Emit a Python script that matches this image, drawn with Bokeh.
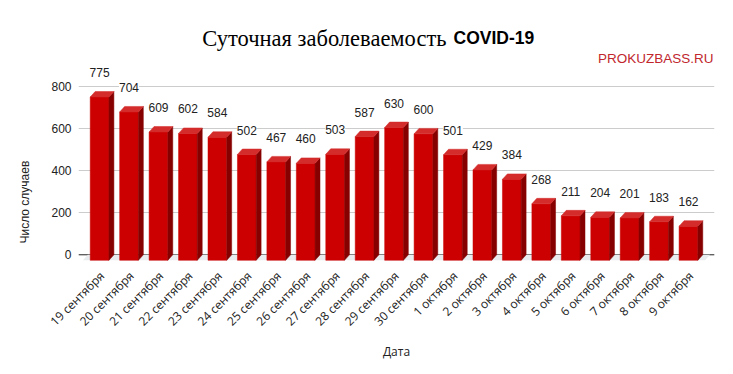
import math
from bokeh.plotting import figure
from bokeh.models import (ColumnDataSource, FactorRange, Range1d, FixedTicker,
                          LabelSet, Label, Span, Title)
from bokeh.core.properties import value
from bokeh.embed import file_html
from bokeh.resources import INLINE

# ---------------- data ----------------
dates = ["19 сентября", "20 сентября", "21 сентября", "22 сентября", "23 сентября",
         "24 сентября", "25 сентября", "26 сентября", "27 сентября", "28 сентября",
         "29 сентября", "30 сентября", "1 октября", "2 октября", "3 октября",
         "4 октября", "5 октября", "6 октября", "7 октября", "8 октября", "9 октября"]
cases = [775, 704, 609, 602, 584, 502, 467, 460, 503, 587, 630, 600,
         501, 429, 384, 268, 211, 204, 201, 183, 162]
y_ticks = [0, 200, 400, 600, 800]

title_main = "Суточная заболеваемость"
title_bold = "COVID-19"
site = "PROKUZBASS.RU"
y_label = "Число случаев"
x_label = "Дата"

# ---------------- layout ----------------
W, H = 733, 374
FRAME_L, FRAME_R, FRAME_T, FRAME_B = 78, 714, 0, 262
PAD = 0.3            # category padding (total)
DX = 0.168           # 3D depth in category units
D = 26               # 3D depth in value units
FL, FR = -0.402, 0.234   # front face edges relative to category center

FRONT = "#cc0000"
SIDE = "#870000"
TOP = "#d42b2b"

def sx(fx):
    return fx - FRAME_L

def sy(fy):
    return FRAME_B - fy

p = figure(width=W, height=H, output_backend="svg", toolbar_location=None, title=None,
           x_range=FactorRange(factors=dates, range_padding=PAD, range_padding_units="absolute"),
           y_range=Range1d(-36.5, 1206.9),
           min_border_left=FRAME_L, min_border_right=W - FRAME_R,
           min_border_top=FRAME_T, min_border_bottom=H - FRAME_B)
p.outline_line_color = None
p.background_fill_color = "white"
p.border_fill_color = "white"

# grid
p.xgrid.grid_line_color = None
p.ygrid.grid_line_color = "#cccccc"
p.yaxis.ticker = FixedTicker(ticks=y_ticks)

# axes
p.yaxis.axis_line_color = None
p.yaxis.major_tick_line_color = None
p.yaxis.minor_tick_line_color = None
p.yaxis.major_tick_out = 0
p.yaxis.major_tick_in = 0
p.yaxis.major_label_standoff = 7
p.yaxis.major_label_text_font = "Liberation Sans"
p.yaxis.major_label_text_font_size = "12px"
p.yaxis.major_label_text_color = "#222222"

p.xaxis.axis_line_color = None
p.xaxis.major_tick_line_color = None
p.xaxis.minor_tick_line_color = None
p.xaxis.major_tick_out = 0
p.xaxis.major_tick_in = 0
p.xaxis.major_label_standoff = 11
p.xaxis.major_label_orientation = math.pi / 4
p.xaxis.major_label_text_font = "Open Sans"
p.xaxis.major_label_text_font_size = "12px"
p.xaxis.major_label_text_color = "#222222"
p.xaxis.axis_label = x_label
p.xaxis.axis_label_text_font = "Open Sans"
p.xaxis.axis_label_text_font_size = "12px"
p.xaxis.axis_label_text_font_style = "normal"
p.xaxis.axis_label_text_color = "#222222"
p.xaxis.axis_label_standoff = 5

# y label as a left-side title
p.add_layout(Title(text=y_label, align="left", offset=19, vertical_align="top",
                   standoff=30, text_font="Liberation Sans", text_font_size="12px",
                   text_font_style="normal", text_color="#222222"), "left")

# zero line
p.add_layout(Span(location=0, dimension="width", line_color="#333333",
                  line_width=1, level="underlay"))

# floor
n = len(dates)
x0, x1 = -PAD / 2, n + PAD / 2
p.patch([x0, x1 - DX, x1, x0 + DX], [-D, -D, 0, 0], fill_color="#e9ecee",
        line_color=None)

# bars
xc = [i + 0.5 for i in range(n)]
front = ColumnDataSource(dict(
    left=[c + FL for c in xc], right=[c + FR for c in xc],
    bottom=[-D] * n, top=[v - D for v in cases]))
p.quad(left="left", right="right", bottom="bottom", top="top", source=front,
       fill_color=FRONT, line_color=FRONT, line_width=0.5)

side_xs = [[c + FR, c + FR + DX, c + FR + DX, c + FR] for c in xc]
side_ys = [[-D, 0, v, v - D] for v in cases]
p.patches(side_xs, side_ys, fill_color=SIDE, line_color=SIDE, line_width=0.5)

top_xs = [[c + FL, c + FL + DX, c + FR + DX, c + FR] for c in xc]
top_ys = [[v - D, v, v, v - D] for v in cases]
p.patches(top_xs, top_ys, fill_color=TOP, line_color=TOP, line_width=0.5)

# value labels
lab_src = ColumnDataSource(dict(x=[c + (FL + FR) / 2 for c in xc], y=cases,
                                txt=[str(v) for v in cases]))
p.add_layout(LabelSet(x="x", y="y", text="txt", source=lab_src,
                      text_align="center", text_baseline="middle", y_offset=19,
                      text_font=value("Liberation Sans"), text_font_size="12px",
                      text_color="#222222", background_fill_color="white"))

# title and site label (inside the frame, which reaches the top of the canvas)
p.add_layout(Label(x=sx(446), y=sy(37.5), x_units="screen", y_units="screen",
                   text=title_main, text_font="Liberation Serif", text_font_size="22.5px",
                   text_align="right", text_baseline="alphabetic", text_color="#000000"))
p.add_layout(Label(x=sx(453), y=sy(37.5), x_units="screen", y_units="screen",
                   text=title_bold, text_font="Liberation Sans", text_font_size="17.5px",
                   text_font_style="bold", text_align="left", text_baseline="alphabetic",
                   text_color="#000000"))
p.add_layout(Label(x=sx(713), y=sy(58.3), x_units="screen", y_units="screen",
                   text=site, text_font="Liberation Sans", text_font_size="13.5px",
                   text_align="right", text_baseline="middle", text_color="#c1272d"))

open("out.html", "w").write(file_html(p, INLINE))
